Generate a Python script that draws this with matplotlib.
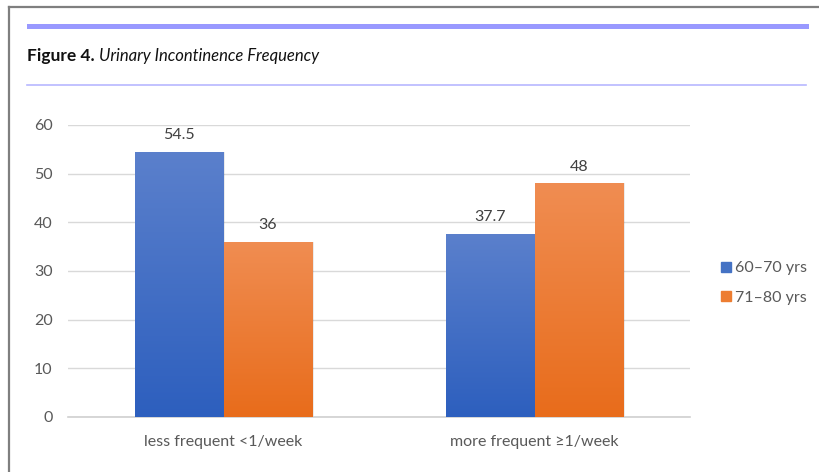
import numpy as np
import matplotlib.pyplot as plt
from matplotlib.lines import Line2D
from matplotlib.patches import Rectangle
from matplotlib.colors import LinearSegmentedColormap

categories = ["less frequent <1/week", "more frequent \u22651/week"]
series_names = ["60\u201370 yrs", "71\u201380 yrs"]
values_60_70 = [54.5, 37.7]
values_71_80 = [36, 48]
yticks = [0, 10, 20, 30, 40, 50, 60]

plt.rcParams['font.family'] = ['Lato', 'DejaVu Sans']

fig = plt.figure(figsize=(8.19, 4.72), dpi=100)
fig.patch.set_facecolor('white')

# page frame, header rule and caption
fig.add_artist(Line2D([9/819, 1.0], [1 - 7/472, 1 - 7/472], color='#7f7f7f', lw=1.6))
fig.add_artist(Line2D([9/819, 9/819], [0, 1 - 7/472], color='#7f7f7f', lw=1.6))
fig.add_artist(Rectangle((27/819, 1 - 29/472), (809 - 27)/819, 5/472,
                         transform=fig.transFigure, color='#9999ff', lw=0))
fig.add_artist(Line2D([27/819, 806/819], [1 - 85/472, 1 - 85/472], color='#b8b8ff', lw=1.2))
t1 = fig.text(27/819, 1 - 56/472, "Figure 4.", fontsize=12.5, fontweight='bold',
              va='center', ha='left', color='#111111')
fig.canvas.draw()
bb = t1.get_window_extent()
fig.text((bb.x1 + 4) / 819, 1 - 56/472, "Urinary Incontinence Frequency", fontsize=12,
         style='italic', va='center', ha='left', color='#111111')

ax = fig.add_axes([68/819, 1 - 417/472, (690 - 68)/819, (417 - 125)/472])
ax.set_xlim(-0.5, 1.5)
ax.set_ylim(0, 60)

x = np.arange(len(categories))
width = 0.285

gradients = [
    LinearSegmentedColormap.from_list('blue', ['#2d5fbe', '#5b80cc']),
    LinearSegmentedColormap.from_list('orange', ['#e86c1b', '#f08d52']),
]
label_colors = ['#4472c4', '#ed7d31']
grad = np.linspace(0, 1, 256).reshape(-1, 1)

for i, (vals, cmap) in enumerate(zip([values_60_70, values_71_80], gradients)):
    offs = (i - 0.5) * width
    bars = ax.bar(x + offs, vals, width, color=label_colors[i], zorder=3,
                  label=series_names[i], linewidth=0)
    for b, v in zip(bars, vals):
        # soft drop shadow
        sh = Rectangle((b.get_x() + 0.006, 0), b.get_width(), v, color='black',
                       alpha=0.08, zorder=2, lw=0)
        ax.add_patch(sh)
        im = ax.imshow(grad, cmap=cmap, aspect='auto', origin='lower',
                       extent=[b.get_x(), b.get_x() + b.get_width(), 0, v], zorder=3)
        im.set_clip_path(b)
        ax.text(b.get_x() + b.get_width() / 2, v + 2.0, f"{v:g}", ha='center',
                va='bottom', fontsize=11.5, color='#404040', zorder=4)

ax.set_xlim(-0.5, 1.5)
ax.set_ylim(0, 60)
ax.set_yticks(yticks)
ax.set_xticks(x)
ax.set_xticklabels(categories, fontsize=11.5)
ax.grid(axis='y', color='#d9d9d9', lw=1, zorder=0)
for s in ['top', 'right', 'left']:
    ax.spines[s].set_visible(False)
ax.spines['bottom'].set_color('#d0d0d0')
ax.spines['bottom'].set_linewidth(1.2)
ax.tick_params(axis='both', length=0, labelcolor='#595959')
ax.tick_params(axis='y', pad=11, labelsize=11.5)
ax.tick_params(axis='x', pad=13)

handles = [Rectangle((0, 0), 1, 1, color=c) for c in label_colors]
ax.legend(handles, series_names, loc='center left', bbox_to_anchor=(707/819, 1 - 283/472),
          bbox_transform=fig.transFigure, frameon=False, fontsize=11.5,
          handlelength=0.6, handleheight=0.6, handletextpad=0.25, labelspacing=0.95,
          labelcolor='#595959')

fig.savefig('out.png', dpi=100, facecolor='white')
